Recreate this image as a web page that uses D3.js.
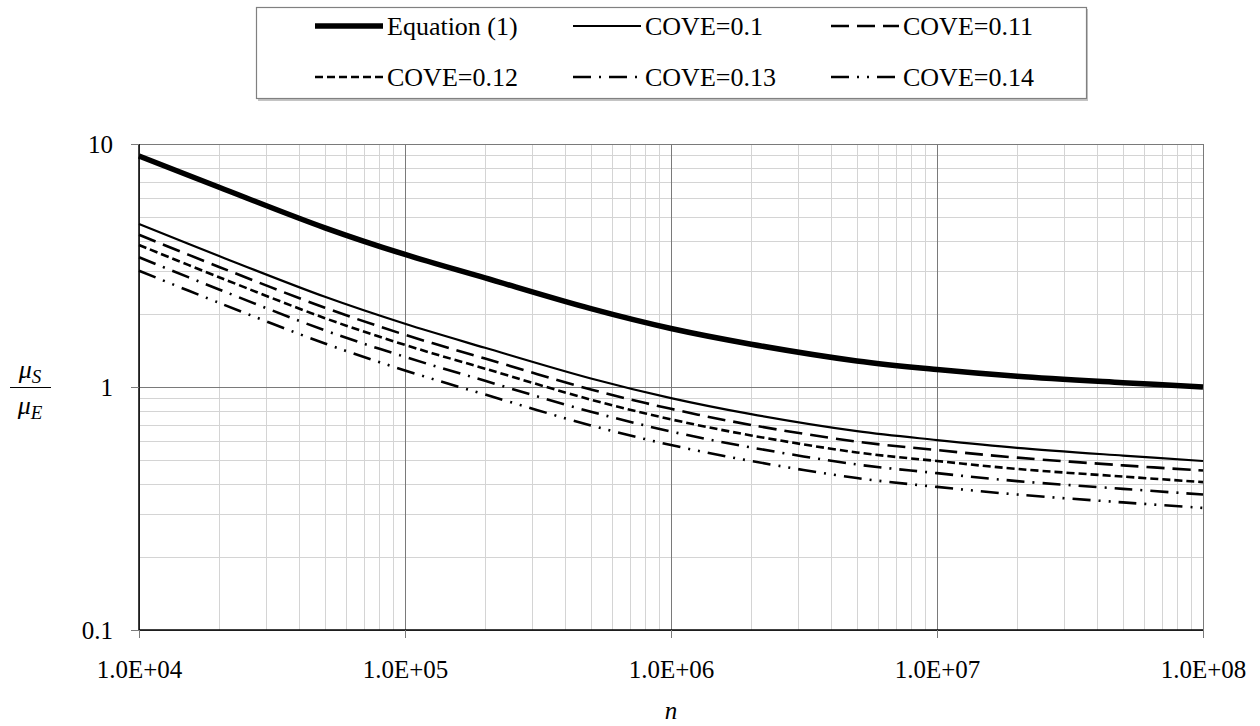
<!DOCTYPE html>
<html>
<head>
<meta charset="utf-8">
<script src="https://cdn.jsdelivr.net/npm/d3@7"></script>
<style>
  html, body { margin: 0; padding: 0; background: #fff; }
  svg { display: block; }
  svg text { font-family: "Liberation Serif", "Times New Roman", "DejaVu Serif", serif; fill: #000; }
</style>
</head>
<body>
<svg id="chart" width="1260" height="726"></svg>
<script>
// Sample sizes n (log axis)
const nValues = [1e4, 2e4, 5e4, 1e5, 2e5, 5e5, 1e6, 2e6, 5e6, 1e7, 2e7, 5e7, 1e8];

// Ratio mu_S / mu_E for each curve
const equation1 = [8.93, 6.64, 4.52, 3.51, 2.81, 2.10, 1.74, 1.50, 1.28, 1.18, 1.107, 1.042, 1.00];
const cove010   = [4.69, 3.46, 2.35, 1.82, 1.45, 1.084, 0.90, 0.773, 0.658, 0.605, 0.562, 0.522, 0.496];
const cove011   = [4.23, 3.12, 2.12, 1.64, 1.31, 0.977, 0.813, 0.698, 0.596, 0.55, 0.512, 0.476, 0.453];
const cove012   = [3.84, 2.83, 1.92, 1.49, 1.19, 0.887, 0.736, 0.632, 0.538, 0.496, 0.46, 0.428, 0.406];
const cove013   = [3.42, 2.52, 1.71, 1.33, 1.06, 0.791, 0.656, 0.564, 0.48, 0.442, 0.41, 0.381, 0.361];
const cove014   = [3.01, 2.22, 1.51, 1.17, 0.931, 0.695, 0.577, 0.496, 0.422, 0.388, 0.361, 0.335, 0.318];

const seriesNames = ["Equation (1)", "COVE=0.1", "COVE=0.11", "COVE=0.12", "COVE=0.13", "COVE=0.14"];
const seriesValues = [equation1, cove010, cove011, cove012, cove013, cove014];

const xTickValues = [1e4, 1e5, 1e6, 1e7, 1e8];
const xTickLabels = ["1.0E+04", "1.0E+05", "1.0E+06", "1.0E+07", "1.0E+08"];
const yTickValues = [0.1, 1, 10];
const yTickLabels = ["0.1", "1", "10"];

// Stroke styles for each curve
const styles = [
  { width: 5.5, dash: null },
  { width: 2.2, dash: null },
  { width: 2.6, dash: "18,8" },
  { width: 2.6, dash: "8,4" },
  { width: 2.6, dash: "18,8,2,8" },
  { width: 2.6, dash: "18,8,2,8,2,8" }
];

const serif = '"Liberation Serif", "Times New Roman", "DejaVu Serif", serif';
const svg = d3.select("#chart");
const plot = { left: 139, right: 1203, top: 144, bottom: 630 };

const x = d3.scaleLog().domain([1e4, 1e8]).range([plot.left, plot.right]);
const y = d3.scaleLog().domain([0.1, 10]).range([plot.bottom, plot.top]);

// Minor grid lines (2..9 inside every decade)
const minorX = [], minorY = [];
for (let d = 1e4; d < 1e8; d *= 10) for (let k = 2; k <= 9; k++) minorX.push(d * k);
for (let d = 0.1; d < 10 - 1e-9; d *= 10) for (let k = 2; k <= 9; k++) minorY.push(d * k);

const grid = svg.append("g").attr("shape-rendering", "crispEdges");
grid.selectAll("line.mx").data(minorX).join("line")
  .attr("x1", d => Math.round(x(d)) + 0.5).attr("x2", d => Math.round(x(d)) + 0.5)
  .attr("y1", plot.top).attr("y2", plot.bottom)
  .attr("stroke", "#d4d4d4").attr("stroke-width", 1);
grid.selectAll("line.my").data(minorY).join("line")
  .attr("y1", d => Math.round(y(d)) + 0.5).attr("y2", d => Math.round(y(d)) + 0.5)
  .attr("x1", plot.left).attr("x2", plot.right)
  .attr("stroke", "#d4d4d4").attr("stroke-width", 1);

// Major grid lines
grid.selectAll("line.Mx").data(xTickValues).join("line")
  .attr("x1", d => Math.round(x(d)) + 0.5).attr("x2", d => Math.round(x(d)) + 0.5)
  .attr("y1", plot.top).attr("y2", plot.bottom)
  .attr("stroke", "#7a7a7a").attr("stroke-width", 1);
grid.selectAll("line.My").data(yTickValues).join("line")
  .attr("y1", d => Math.round(y(d)) + 0.5).attr("y2", d => Math.round(y(d)) + 0.5)
  .attr("x1", plot.left).attr("x2", plot.right)
  .attr("stroke", "#7a7a7a").attr("stroke-width", 1);

// Curves
const line = d3.line()
  .x(d => x(d[0]))
  .y(d => y(d[1]))
  .curve(d3.curveCatmullRom.alpha(0.5));

const curves = svg.append("g");
seriesValues.forEach((vals, i) => {
  const pts = nValues.map((n, j) => [n, vals[j]]);
  curves.append("path")
    .attr("d", line(pts))
    .attr("fill", "none")
    .attr("stroke", "#000")
    .attr("stroke-width", styles[i].width)
    .attr("stroke-dasharray", styles[i].dash)
    .attr("stroke-linecap", "butt");
});

// Axes
const xAxis = d3.axisBottom(x).tickValues(xTickValues)
  .tickFormat((d, i) => xTickLabels[i]).tickSize(8).tickPadding(22);
const yAxis = d3.axisLeft(y).tickValues(yTickValues)
  .tickFormat((d, i) => yTickLabels[i]).tickSize(8).tickPadding(18);

const gx = svg.append("g").attr("transform", `translate(0,${plot.bottom})`).call(xAxis);
const gy = svg.append("g").attr("transform", `translate(${plot.left},0)`).call(yAxis);
[gx, gy].forEach(g => {
  g.attr("font-family", serif).attr("font-size", 25);
  g.select(".domain").attr("stroke", "#000").attr("stroke-width", 1.5);
  g.selectAll(".tick line").attr("stroke", "#7a7a7a");
  g.selectAll(".tick text").attr("fill", "#000");
});
gx.select(".domain").attr("d", `M${plot.left},0H${plot.right}`);
gy.select(".domain").attr("d", `M0,${plot.top}V${plot.bottom}`);

// Axis titles
svg.append("text")
  .attr("x", (plot.left + plot.right) / 2).attr("y", 719)
  .attr("text-anchor", "middle")
  .attr("font-size", 25).attr("font-style", "italic")
  .text("n");

const yl = svg.append("g").attr("transform", "translate(30,387)");
const num = yl.append("text").attr("x", 0).attr("y", -9).attr("text-anchor", "middle")
  .attr("font-size", 26).attr("font-style", "italic");
num.append("tspan").text("μ");
num.append("tspan").attr("dy", 5).attr("font-size", 19).text("S");
yl.append("line").attr("x1", -20).attr("x2", 21).attr("y1", 0.5).attr("y2", 0.5)
  .attr("stroke", "#000").attr("stroke-width", 1.2);
const den = yl.append("text").attr("x", 0).attr("y", 27).attr("text-anchor", "middle")
  .attr("font-size", 26).attr("font-style", "italic");
den.append("tspan").text("μ");
den.append("tspan").attr("dy", 5).attr("font-size", 19).text("E");

// Legend box with a soft drop shadow on its lower edge
const legend = svg.append("g");
legend.append("rect")
  .attr("x", 258).attr("y", 9).attr("width", 830).attr("height", 92)
  .attr("fill", "#c4c4c4");
legend.append("rect")
  .attr("x", 256.5).attr("y", 7.5).attr("width", 830).attr("height", 91)
  .attr("fill", "#fff").attr("stroke", "#808080").attr("stroke-width", 1.2);

const legendCols = [
  { x1: 315, x2: 383, tx: 387 },
  { x1: 573, x2: 641, tx: 645 },
  { x1: 831, x2: 899, tx: 903 }
];
const legendRows = [26, 77];
seriesNames.forEach((name, i) => {
  const col = legendCols[i % 3];
  const ry = legendRows[Math.floor(i / 3)];
  legend.append("line")
    .attr("x1", col.x1).attr("x2", col.x2).attr("y1", ry).attr("y2", ry)
    .attr("stroke", "#000")
    .attr("stroke-width", styles[i].width)
    .attr("stroke-dasharray", styles[i].dash);
  legend.append("text")
    .attr("x", col.tx).attr("y", ry + 9)
    .attr("font-size", 26)
    .text(name);
});
</script>
</body>
</html>
